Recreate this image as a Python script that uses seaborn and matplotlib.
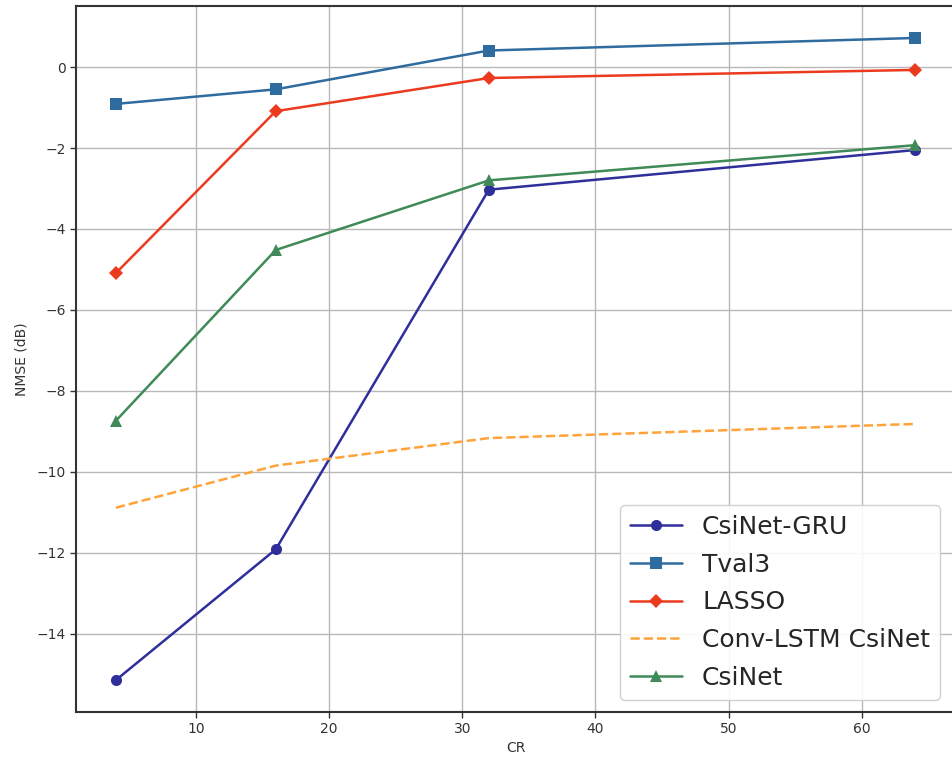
import pandas as pd
import matplotlib.pyplot as plt
import seaborn as sns

# ── DATA ──────────────────────────────────────────────────────────────────────
cr = [4, 16, 32, 64]
csinet_gru = [-15.15, -11.92, -3.03, -2.05]
tval3      = [-0.91, -0.55, 0.41, 0.72]
lasso      = [-5.09, -1.09, -0.27, -0.07]
conv_lstm  = [-10.89, -9.85, -9.17, -8.82]
csinet     = [-8.74, -4.52, -2.80, -1.93]

series = [
    ("CsiNet-GRU",        csinet_gru, "#2f2f9c", "o", "-"),
    ("Tval3",             tval3,      "#2e6b9e", "s", "-"),
    ("LASSO",             lasso,      "#ec3a1f", "D", "-"),
    ("Conv-LSTM CsiNet",  conv_lstm,  "#ffa33a", "",  "--"),
    ("CsiNet",            csinet,     "#3f8a58", "^", "-"),
]

sns.set_theme(style="whitegrid")
plt.rcParams["font.family"] = ["DejaVu Sans"]

fig = plt.figure(figsize=(9.52, 7.65), dpi=100)
ax = fig.add_axes([76 / 952, 1 - 712 / 765, (955 - 76) / 952, (712 - 6) / 765])

for name, vals, col, mk, ls in series:
    df = pd.DataFrame({"CR": cr, "NMSE": vals})
    sns.lineplot(data=df, x="CR", y="NMSE", ax=ax, color=col, linewidth=1.8,
                 linestyle=ls, marker=mk if mk else None,
                 markersize=8 if mk != "D" else 7, markeredgewidth=0,
                 label=name)

ax.set_xlim(1, 67)
ax.set_ylim(-15.94, 1.51)
ax.set_xticks([10, 20, 30, 40, 50, 60])
ax.set_yticks([0, -2, -4, -6, -8, -10, -12, -14])
ax.set_yticklabels(["0", "\u22122", "\u22124", "\u22126", "\u22128",
                    "\u221210", "\u221212", "\u221214"])
ax.tick_params(axis="both", labelsize=10, colors="#333333", length=4,
               width=1, direction="out", bottom=True, left=True, pad=3)
ax.grid(True, color="#b8b8b8", linewidth=1.0)
for sp in ax.spines.values():
    sp.set_color("#333333")
    sp.set_linewidth(1.5)
ax.set_facecolor("white")
ax.set_xlabel("CR", fontsize=10, color="#333333", labelpad=4)
ax.set_ylabel("NMSE (dB)", fontsize=10, color="#333333", labelpad=6)

leg = ax.legend(loc="lower right", bbox_to_anchor=(0.983, 0.017), fontsize=18,
                frameon=True, fancybox=True, handlelength=2.1, borderaxespad=0,
                borderpad=0.4, labelspacing=0.55, handletextpad=0.8)
leg.get_frame().set_edgecolor("#cccccc")
leg.get_frame().set_alpha(0.9)

fig.savefig("out.png", dpi=100)
